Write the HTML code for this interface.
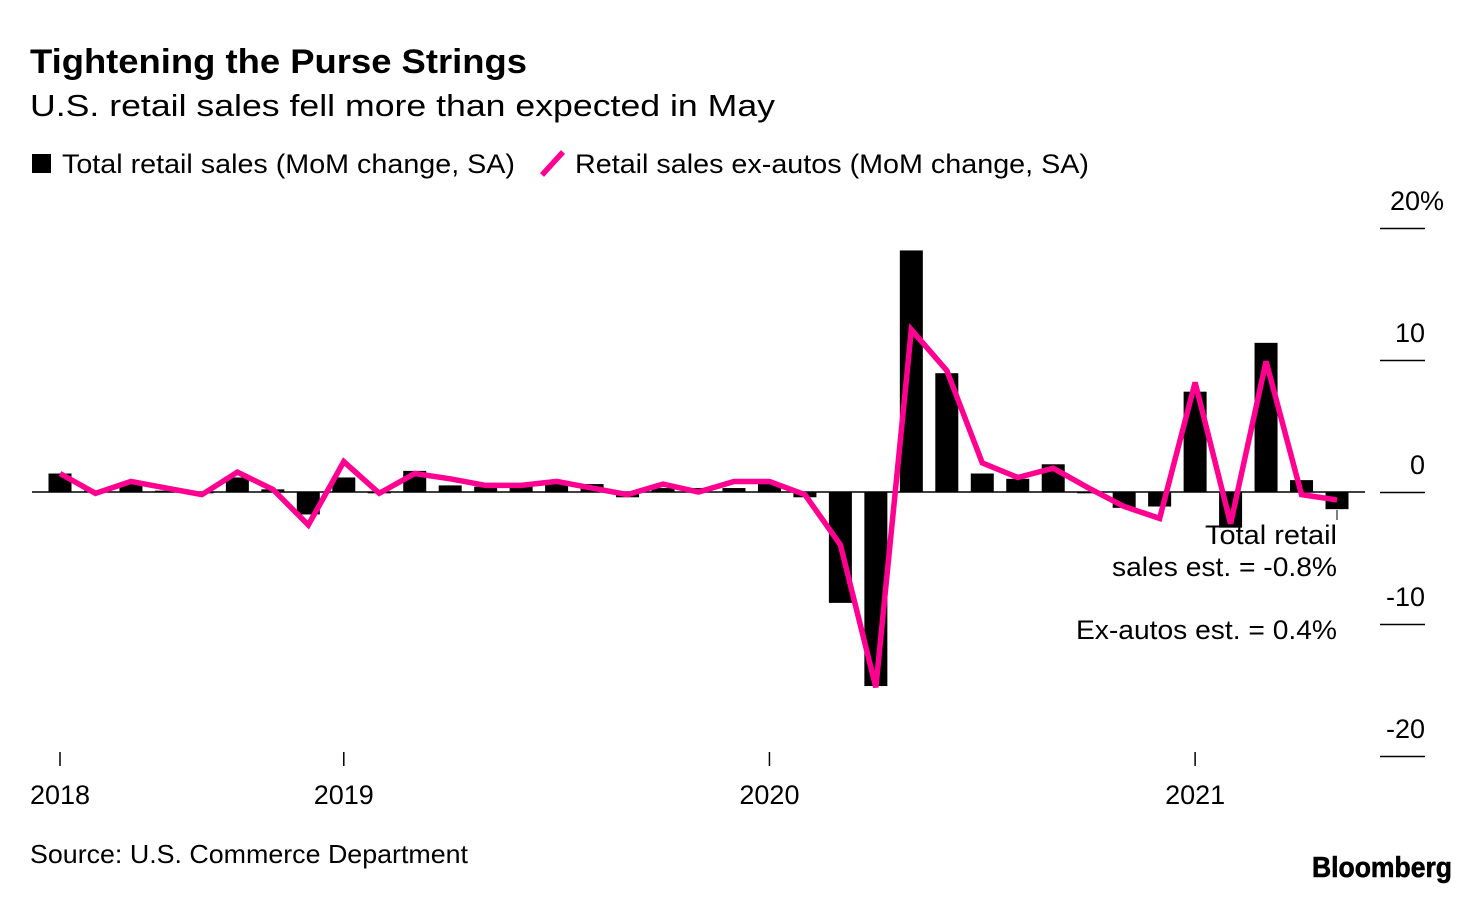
<!DOCTYPE html>
<html><head><meta charset="utf-8"><style>
body{margin:0;background:#fff;width:1480px;height:894px;overflow:hidden;font-family:"Liberation Sans",sans-serif;}
svg text{font-family:"Liberation Sans",sans-serif;}
</style></head><body>
<svg width="1480" height="894">
<text x="30" y="73" font-size="34" font-weight="bold" fill="#000" textLength="497" lengthAdjust="spacingAndGlyphs">Tightening the Purse Strings</text>
<text x="30" y="116" font-size="31" fill="#000" textLength="745" lengthAdjust="spacingAndGlyphs">U.S. retail sales fell more than expected in May</text>
<g>
<rect x="32" y="154" width="19" height="19" fill="#000"/>
<text x="62" y="173" font-size="27" textLength="453" lengthAdjust="spacingAndGlyphs">Total retail sales (MoM change, SA)</text>
<line x1="542" y1="175" x2="563" y2="152" stroke="#ff0090" stroke-width="5.5"/>
<text x="575" y="173" font-size="27" textLength="514" lengthAdjust="spacingAndGlyphs">Retail sales ex-autos (MoM change, SA)</text>
</g>
<g id="yaxis"></g>
<g id="bars"></g>
<line x1="32" y1="492" x2="1365" y2="492" stroke="#000" stroke-width="1.5"/>
<path id="line" fill="none" stroke="#ff0090" stroke-width="5.5" stroke-linejoin="miter"/>
<g id="xaxis"></g>
<line x1="1337" y1="510" x2="1337" y2="520" stroke="#000" stroke-width="1"/>
<text x="1337" y="544" font-size="27" text-anchor="end" textLength="132" lengthAdjust="spacingAndGlyphs">Total retail</text>
<text x="1337" y="576" font-size="27" text-anchor="end" textLength="225" lengthAdjust="spacingAndGlyphs">sales est. = -0.8%</text>
<text x="1337" y="639" font-size="27" text-anchor="end" textLength="261" lengthAdjust="spacingAndGlyphs">Ex-autos est. = 0.4%</text>
<text x="30" y="863" font-size="26" textLength="438" lengthAdjust="spacingAndGlyphs">Source: U.S. Commerce Department</text>
<text x="1312" y="877" font-size="29" font-weight="bold" textLength="140" lengthAdjust="spacingAndGlyphs" stroke="#000" stroke-width="0.6">Bloomberg</text>
</svg>
<script>
const totalSales=[1.4,0.1,0.6,0.1,-0.1,1.1,0.2,-1.7,1.1,-0.1,1.6,0.5,0.4,0.4,0.6,0.6,-0.4,0.3,0.3,0.3,0.6,-0.4,-8.4,-14.7,18.3,9.0,1.4,1.0,2.1,-0.1,-1.2,-1.1,7.6,-2.7,11.3,0.9,-1.3];
const exAutos=[1.4,-0.1,0.8,0.3,-0.2,1.5,0.2,-2.5,2.3,-0.1,1.4,1.0,0.5,0.5,0.8,0.3,-0.2,0.6,0.0,0.8,0.8,-0.2,-4.0,-14.8,12.3,9.2,2.2,1.1,1.8,0.3,-1.1,-2.0,8.3,-2.4,9.9,-0.2,-0.6];
const yTicks=[20,10,0,-10,-20];
const yTickLabels=["20%","10","0","-10","-20"];
const xTickIdx=[0,8,20,32];
const xTickLabels=["2018","2019","2020","2021"];
const NS="http://www.w3.org/2000/svg";
function y(v){return 492-v*13.2;}
function x(i){return 60+i*(1337-60)/(totalSales.length-1);}
const bars=document.getElementById('bars');
totalSales.forEach((v,i)=>{const r=document.createElementNS(NS,'rect');
r.setAttribute('x',x(i)-11.5);r.setAttribute('width',23);
r.setAttribute('y',Math.min(y(v),y(0)));r.setAttribute('height',Math.abs(y(v)-y(0)));
r.setAttribute('fill','#000');


bars.appendChild(r);});
document.getElementById('line').setAttribute('d',exAutos.map((v,i)=>(i?'L':'M')+x(i)+','+y(v)).join(''));
const ya=document.getElementById('yaxis');
yTicks.forEach((t,i)=>{const l=document.createElementNS(NS,'line');
l.setAttribute('x1',1380);l.setAttribute('x2',1425);l.setAttribute('y1',y(t)+0.5);l.setAttribute('y2',y(t)+0.5);l.setAttribute('stroke','#000');l.setAttribute('stroke-width',1.5);


ya.appendChild(l);
const tx=document.createElementNS(NS,'text');
const pct=yTickLabels[i].indexOf('%')>=0;
tx.setAttribute('x',pct?1390:1425);tx.setAttribute('y',y(t)-18);tx.setAttribute('text-anchor',pct?'start':'end');tx.setAttribute('font-size','27');tx.textContent=yTickLabels[i];


ya.appendChild(tx);});
const xa=document.getElementById('xaxis');
xTickIdx.forEach((idx,i)=>{const l=document.createElementNS(NS,'line');
l.setAttribute('x1',x(idx));l.setAttribute('x2',x(idx));l.setAttribute('y1',752);l.setAttribute('y2',766);l.setAttribute('stroke','#000');l.setAttribute('stroke-width',1.5);


xa.appendChild(l);
const tx=document.createElementNS(NS,'text');tx.setAttribute('x',x(idx));tx.setAttribute('y',804);tx.setAttribute('text-anchor','middle');tx.setAttribute('font-size','27');tx.textContent=xTickLabels[i];


xa.appendChild(tx);});
</script>
</body></html>
